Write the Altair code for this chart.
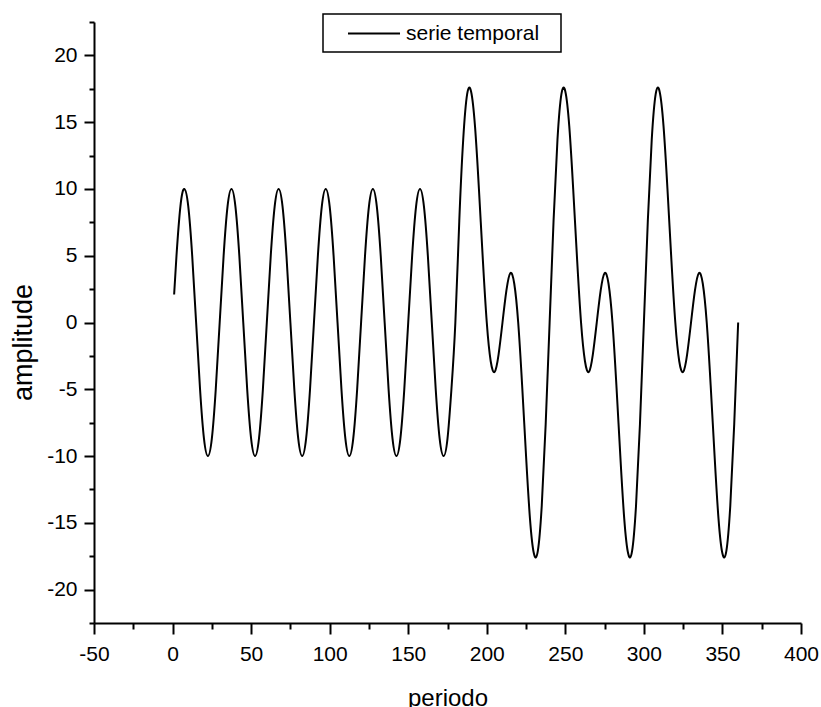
import altair as alt
import pandas as pd

# ---- data ----
periodo_a = [1, 2.5, 5, 7.5, 10, 12.5, 15, 17.5, 20, 22.5, 25, 27.5, 30,
             32.5, 35, 37.5, 40, 42.5, 45, 47.5, 50, 52.5, 55, 57.5, 60,
             62.5, 65, 67.5, 70, 72.5, 75, 77.5, 80, 82.5, 85, 87.5, 90,
             92.5, 95, 97.5, 100, 102.5, 105, 107.5, 110, 112.5, 115, 117.5, 120,
             122.5, 125, 127.5, 130, 132.5, 135, 137.5, 140, 142.5, 145, 147.5, 150,
             152.5, 155, 157.5, 160, 162.5, 165, 167.5, 170, 172.5, 175, 177.5, 180]
amplitude_a = [2.1, 5.0, 8.7, 10.0, 8.7, 5.0, 0.0, -5.0, -8.7, -10.0, -8.7, -5.0, 0.0,
               5.0, 8.7, 10.0, 8.7, 5.0, 0.0, -5.0, -8.7, -10.0, -8.7, -5.0, 0.0,
               5.0, 8.7, 10.0, 8.7, 5.0, 0.0, -5.0, -8.7, -10.0, -8.7, -5.0, 0.0,
               5.0, 8.7, 10.0, 8.7, 5.0, 0.0, -5.0, -8.7, -10.0, -8.7, -5.0, 0.0,
               5.0, 8.7, 10.0, 8.7, 5.0, 0.0, -5.0, -8.7, -10.0, -8.7, -5.0, 0.0,
               5.0, 8.7, 10.0, 8.7, 5.0, 0.0, -5.0, -8.7, -10.0, -8.7, -5.0, 0.0]

periodo_b = [182.5, 185, 187.5, 190, 192.5, 195, 197.5, 200, 202.5, 205, 207.5, 210,
             212.5, 215, 217.5, 220, 222.5, 225, 227.5, 230, 232.5, 235, 237.5, 240,
             242.5, 245, 247.5, 250, 252.5, 255, 257.5, 260, 262.5, 265, 267.5, 270,
             272.5, 275, 277.5, 280, 282.5, 285, 287.5, 290, 292.5, 295, 297.5, 300,
             302.5, 305, 307.5, 310, 312.5, 315, 317.5, 320, 322.5, 325, 327.5, 330,
             332.5, 335, 337.5, 340, 342.5, 345, 347.5, 350, 352.5, 355, 357.5, 360]
amplitude_b = [7.6, 13.7, 17.1, 17.3, 14.7, 10.0, 4.7, 0.0, -2.9, -3.7, -2.4, 0.0,
               2.4, 3.7, 2.9, 0.0, -4.7, -10.0, -14.7, -17.3, -17.1, -13.7, -7.6, 0.0,
               7.6, 13.7, 17.1, 17.3, 14.7, 10.0, 4.7, 0.0, -2.9, -3.7, -2.4, 0.0,
               2.4, 3.7, 2.9, 0.0, -4.7, -10.0, -14.7, -17.3, -17.1, -13.7, -7.6, 0.0,
               7.6, 13.7, 17.1, 17.3, 14.7, 10.0, 4.7, 0.0, -2.9, -3.7, -2.4, 0.0,
               2.4, 3.7, 2.9, 0.0, -4.7, -10.0, -14.7, -17.3, -17.1, -13.7, -7.6, 0.0]

serie_name = "serie temporal"

x_ticks = [-50, -25, 0, 25, 50, 75, 100, 125, 150, 175, 200, 225, 250, 275,
           300, 325, 350, 375, 400]
y_ticks = [-22.5, -20, -17.5, -15, -12.5, -10, -7.5, -5, -2.5, 0, 2.5, 5, 7.5,
           10, 12.5, 15, 17.5, 20, 22.5]

df = pd.DataFrame({
    "periodo": periodo_a + periodo_b,
    "amplitude": amplitude_a + amplitude_b,
    "serie": serie_name,
})

FONT = "Liberation Sans"
W, H = 707, 601

x_axis = alt.Axis(
    values=x_ticks,
    title="periodo",
    grid=False,
    labelExpr="datum.value % 50 === 0 ? toString(datum.value) : ''",
    labelFont=FONT, labelFontSize=21, labelColor="black",
    labelPadding=9, labelFlush=False, labelOverlap=False,
    tickSize={"condition": {"test": "datum.value % 50 === 0", "value": 11}, "value": 6},
    tickColor="black", tickWidth=2,
    domainColor="black", domainWidth=2,
    titleFont=FONT, titleFontSize=24, titleFontWeight="normal", titleColor="black",
    titleX=W / 2, titleY=82, titleAlign="center", titleBaseline="alphabetic",
)

y_axis = alt.Axis(
    values=y_ticks,
    title="amplitude",
    grid=False,
    labelExpr="datum.value % 5 === 0 ? toString(datum.value) : ''",
    labelFont=FONT, labelFontSize=21, labelColor="black",
    labelPadding=7, labelFlush=False, labelOverlap=False,
    tickSize={"condition": {"test": "datum.value % 5 === 0", "value": 10}, "value": 5},
    tickColor="black", tickWidth=2,
    domainColor="black", domainWidth=2,
    titleFont=FONT, titleFontSize=27, titleFontWeight="normal", titleColor="black",
    titleAngle=270, titleX=-63, titleY=320, titleAlign="center", titleBaseline="alphabetic",
)

legend = alt.Legend(
    title=" ", titleOrient="right", titlePadding=14, titleFontSize=21,
    orient="none", legendX=229, legendY=-8,
    symbolType="M-2.5,0L2.5,0", symbolSize=433, symbolStrokeWidth=2,
    symbolStrokeColor="black", symbolFillColor="transparent", symbolOffset=31.5,
    labelFont=FONT, labelFontSize=21, labelColor="black", labelOffset=20.5,
    strokeColor="black", fillColor="white", padding=8,
)

chart = alt.Chart(df).mark_line(
    stroke="black", strokeWidth=2, interpolate="natural"
).encode(
    x=alt.X("periodo:Q", scale=alt.Scale(domain=[-50, 400], nice=False, zero=False), axis=x_axis),
    y=alt.Y("amplitude:Q", scale=alt.Scale(domain=[-22.5, 22.5], nice=False, zero=False), axis=y_axis),
    color=alt.Color("serie:N", scale=alt.Scale(domain=[serie_name], range=["black"]), legend=legend),
).properties(
    width=W, height=H,
    autosize=alt.AutoSizeParams(type="none"),
    padding={"left": 94, "top": 22, "right": 20, "bottom": 84},
    background="white",
).configure_view(stroke=None).configure_legend(strokeWidth=1.5)

chart.save("out.html", embed_options={"renderer": "svg", "actions": False})
